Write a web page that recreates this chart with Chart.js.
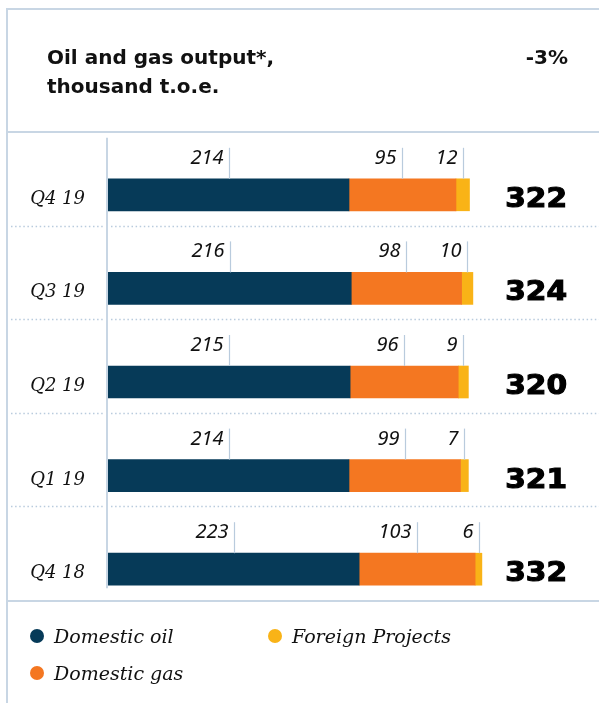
<!DOCTYPE html>
<html>
<head>
<meta charset="utf-8">
<script src="https://cdn.jsdelivr.net/npm/chart.js@4/dist/chart.umd.min.js"></script>
<style>
html,body{margin:0;padding:0;background:#fff;width:599px;height:703px;overflow:hidden;}
#wrap{position:relative;width:599px;height:703px;}
#c{position:absolute;left:0;top:0;}
.line{position:absolute;background:#c8d6e4;}
.title{position:absolute;left:47px;top:43px;font-family:"DejaVu Sans";font-weight:700;font-size:20px;line-height:29px;color:#111;}
.delta{position:absolute;right:31px;top:43px;font-family:"DejaVu Sans";font-weight:700;font-size:20px;line-height:29px;color:#111;}
.leg{position:absolute;font-family:"DejaVu Serif";font-style:italic;font-size:19px;color:#111;line-height:24px;white-space:nowrap;}
.dot{display:inline-block;width:14px;height:14px;border-radius:50%;vertical-align:middle;margin-right:10px;position:relative;top:-2px;}
</style>
</head>
<body>
<div id="wrap">
  <canvas id="c" width="599" height="703"></canvas>
  <div class="line" style="left:6px;top:8px;width:593px;height:2px;"></div>
  <div class="line" style="left:6px;top:8px;width:2px;height:695px;"></div>
  <div class="line" style="left:6px;top:131px;width:593px;height:2px;"></div>
  <div class="line" style="left:6px;top:600px;width:593px;height:2px;"></div>
  <div class="title">Oil and gas output*,<br>thousand t.o.e.</div>
  <div class="delta">-3%</div>
  <div id="legend"></div>
</div>
<script>
const categories = ['Q4 19', 'Q3 19', 'Q2 19', 'Q1 19', 'Q4 18'];
const seriesNames = ['Domestic oil', 'Domestic gas', 'Foreign Projects'];
const domesticOil = [214, 216, 215, 214, 223];
const domesticGas = [95, 98, 96, 99, 103];
const foreignProjects = [12, 10, 9, 7, 6];
const totals = [322, 324, 320, 321, 332];
const seriesColors = ['#063a58', '#f47721', '#f9b317'];

// Legend (HTML text): oil top-left, gas bottom-left, foreign top-right
const legendPos = [[30, 624], [30, 661], [268, 624]];
const legendEl = document.getElementById('legend');
seriesNames.forEach((n, i) => {
  const d = document.createElement('div');
  d.className = 'leg';
  d.style.left = legendPos[i][0] + 'px';
  d.style.top = legendPos[i][1] + 'px';
  d.innerHTML = '<span class="dot" style="background:' + seriesColors[i] + '"></span>' + n;
  legendEl.appendChild(d);
});

const decor = {
  id: 'decor',
  afterDatasetsDraw(chart) {
    const ctx = chart.ctx;
    const ys = chart.scales.y;
    const n = categories.length;
    const band = (chart.chartArea.bottom - chart.chartArea.top) / n;
    const c0 = ys.getPixelForValue(0);
    const cN = ys.getPixelForValue(n - 1);
    ctx.save();
    // axis line
    ctx.strokeStyle = '#c8d6e4';
    ctx.lineWidth = 2;
    ctx.beginPath();
    ctx.moveTo(107, c0 - 57);
    ctx.lineTo(107, cN + 19);
    ctx.stroke();
    // dotted separators
    ctx.strokeStyle = '#b9cbdd';
    ctx.lineWidth = 1.5;
    ctx.setLineDash([1.5, 2.6]);
    for (let i = 0; i < n - 1; i++) {
      const y = Math.round(ys.getPixelForValue(i) + band / 2 - 16) + 0.5;
      ctx.beginPath();
      ctx.moveTo(11, y); ctx.lineTo(103, y);
      ctx.moveTo(111, y); ctx.lineTo(599, y);
      ctx.stroke();
    }
    ctx.setLineDash([]);
    // category labels
    ctx.fillStyle = '#111';
    ctx.textAlign = 'right';
    ctx.textBaseline = 'alphabetic';
    ctx.font = 'italic 18px "DejaVu Serif"';
    categories.forEach((c, i) => {
      ctx.fillText(c, 85, ys.getPixelForValue(i) + 9);
    });
    // value labels with leader ticks
    chart.data.datasets.forEach((ds, di) => {
      const meta = chart.getDatasetMeta(di);
      meta.data.forEach((bar, i) => {
        const p = bar.getProps(['x', 'y', 'base', 'height'], true);
        const mid = Math.round((p.x + p.base) / 2) + 0.5;
        const top = p.y - p.height / 2;
        ctx.strokeStyle = '#b9cbdd';
        ctx.lineWidth = 1.2;
        ctx.beginPath();
        ctx.moveTo(mid, top - 31);
        ctx.lineTo(mid, top);
        ctx.stroke();
        ctx.fillStyle = '#111';
        ctx.font = 'italic 20px "Noto Sans"';
        ctx.textAlign = 'right';
        ctx.fillText(String(ds.data[i]), mid - 6, top - 15);
      });
    });
    // totals (heavy, wide)
    ctx.font = 'bold 26px "DejaVu Sans"';
    ctx.fillStyle = '#000';
    ctx.strokeStyle = '#000';
    ctx.lineWidth = 1.1;
    ctx.textAlign = 'right';
    totals.forEach((t, i) => {
      const y = ys.getPixelForValue(i) + 12;
      ctx.save();
      ctx.translate(567, y);
      ctx.scale(1.14, 1);
      ctx.fillText(String(t), 0, 0);
      ctx.strokeText(String(t), 0, 0);
      ctx.restore();
    });
    ctx.restore();
  }
};

new Chart(document.getElementById('c'), {
  type: 'bar',
  data: {
    labels: categories,
    datasets: [
      { label: seriesNames[0], data: domesticOil, backgroundColor: seriesColors[0] },
      { label: seriesNames[1], data: domesticGas, backgroundColor: seriesColors[1] },
      { label: seriesNames[2], data: foreignProjects, backgroundColor: seriesColors[2] }
    ]
  },
  options: {
    indexAxis: 'y',
    responsive: false,
    animation: false,
    devicePixelRatio: 1,
    layout: { padding: { left: 108, right: 9, top: 148, bottom: 87 } },
    datasets: { bar: { barThickness: 32, borderWidth: 0, borderSkipped: false } },
    scales: {
      x: { stacked: true, min: 0, max: 428, display: false, grid: { display: false } },
      y: { stacked: true, display: false, grid: { display: false } }
    },
    plugins: { legend: { display: false }, tooltip: { enabled: false }, title: { display: false } }
  },
  plugins: [decor]
});
</script>
</body>
</html>
